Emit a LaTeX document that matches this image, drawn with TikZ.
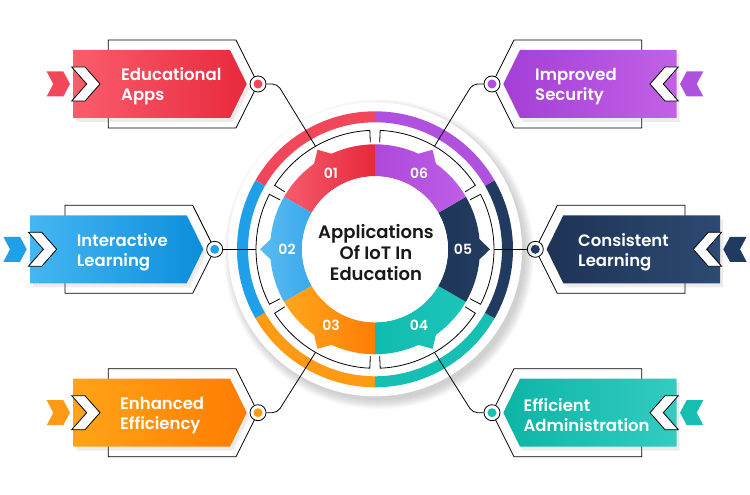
\documentclass[tikz,border=0pt]{standalone}
\usepackage{fontspec}
\setmainfont{Poppins}[BoldFont={Poppins SemiBold}]
\usepackage{tikz}
\usetikzlibrary{calc}
\usetikzlibrary{shadows}

\definecolor{redlt}{HTML}{FA5D6D}
\definecolor{reddk}{HTML}{E8293D}
\definecolor{redmid}{HTML}{F2475A}
\definecolor{bluelt}{HTML}{45B6F2}
\definecolor{bluedk}{HTML}{0C8EDB}
\definecolor{bluemid}{HTML}{1FA0E8}
\definecolor{orglt}{HTML}{FFA417}
\definecolor{orgdk}{HTML}{FF7C02}
\definecolor{orgmid}{HTML}{FF9A14}
\definecolor{teallt}{HTML}{33CCC0}
\definecolor{tealdk}{HTML}{0CB5A6}
\definecolor{tealmid}{HTML}{17BFB2}
\definecolor{navylt}{HTML}{2D4A72}
\definecolor{navydk}{HTML}{1E3356}
\definecolor{navymid}{HTML}{213B60}
\definecolor{purlt}{HTML}{C261E6}
\definecolor{purdk}{HTML}{A33FD6}
\definecolor{purmid}{HTML}{B050DE}

\definecolor{segAa}{HTML}{F65C6E}
\definecolor{segAb}{HTML}{E7283B}
\definecolor{segBa}{HTML}{5BBBF2}
\definecolor{segBb}{HTML}{3AA9EC}
\definecolor{segCa}{HTML}{FFA71C}
\definecolor{segCb}{HTML}{FF7D05}
\definecolor{segDa}{HTML}{10BCAE}
\definecolor{segDb}{HTML}{1DC5B9}
\definecolor{segEa}{HTML}{1F3658}
\definecolor{segEb}{HTML}{223C60}
\definecolor{segFa}{HTML}{AE48DA}
\definecolor{segFb}{HTML}{BE5FE6}

\tikzset{
  thinline/.style={draw=black, line width=0.8pt},
  marker/.style={circle, draw=black, line width=0.8pt, fill=white, minimum size=16pt, inner sep=0pt},
  boxtext/.style={text=white, font=\bfseries\fontsize{16.5}{20}\selectfont, align=left, anchor=west, inner sep=0pt},
  numtext/.style={text=white, font=\bfseries\fontsize{14}{16}\selectfont},
  banner/.style={drop shadow={opacity=0.15, shadow xshift=3pt, shadow yshift=-4pt}},
}

\begin{document}
\begin{tikzpicture}[x=1pt,y=1pt]
  \useasboundingbox (0,0) rectangle (750,495);
  \coordinate (C) at (375,245.7);

  \foreach \k/\s/\d/\yc/\ca/\cb/\cc in {
      1/1/0/411/redlt/reddk/redmid,
      2/1/-43.3/245.7/bluelt/bluedk/bluemid,
      3/1/0/82.3/orglt/orgdk/orgmid,
      4/-1/0/82.3/tealdk/teallt/tealmid,
      5/-1/-43.3/245.7/navydk/navylt/navymid,
      6/-1/0/411/purdk/purlt/purmid}{
    \begin{scope}[shift={(375,\yc)}, xscale=\s, xshift=\d]
      \draw[thinline] (-266.7,44) -- (-139,44) -- (-117,0) -- (-139,-44) -- (-266.7,-44) -- cycle;
      \shade[banner, left color=\ca, right color=\cb] (-301.7,34) -- (-145,34) -- (-128.3,0) -- (-145,-34) -- (-301.7,-34) -- cycle;
      \fill[\cc] (-328.3,12.5) -- (-311.7,12.5) -- (-305,0) -- (-311.7,-12.5) -- (-328.3,-12.5) -- (-321.7,0) -- cycle;
      \filldraw[thinline, fill=white] (-303.3,17) -- (-290,17) -- (-275,0) -- (-290,-17) -- (-303.3,-17) -- (-288.3,0) -- cycle;
      \node[marker] (m\k) at (-117,0) {};
      \fill[\cc] (m\k) circle (4.5);
    \end{scope}
  }

  \node[boxtext] (t1) at (121,408.5) {Educational\\Apps};
  \node[boxtext] (t2) at (76.7,243.2) {Interactive\\Learning};
  \node[boxtext] (t3) at (120,79.8) {Enhanced\\Efficiency};
  \node[boxtext] (t4) at (523.3,79.8) {Efficient\\Administration};
  \node[boxtext] (t5) at (578,243.2) {Consistent\\Learning};
  \node[boxtext] (t6) at (535,408.5) {Improved\\Security};

  \foreach \i in {1,...,10}
    \fill[black, opacity=0.018] ($(C)+(4,-5)$) circle (145+\i);
  \fill[white] (C) circle (147);

  \begin{scope}[shift={(C)}]
    \foreach \a/\cr in {90/redmid,150/bluemid,210/orgmid,270/tealmid,330/navymid,30/purmid}
      \draw[\cr, line width=11pt] (\a:132.5) arc[start angle=\a, end angle=\a+60, radius=132.5];

    \foreach \a in {30,90,...,330}
      \draw[thinline] (\a+2.5:107) -- (\a+2.5:119) arc[start angle=\a+2.5, end angle=\a+57.5, radius=119] -- (\a+57.5:107);

    \foreach \a/\ca/\cb/\num in {90/segAa/segAb/01,150/segBa/segBb/02,210/segCa/segCb/03,
                                 270/segDa/segDb/04,330/segEa/segEb/05,30/segFa/segFb/06}{
      \shade[left color=\ca, right color=\cb] (\a:105) arc[start angle=\a, end angle=\a+24.5, radius=105]
        -- (\a+30:115) -- (\a+35.5:105) arc[start angle=\a+35.5, end angle=\a+60, radius=105]
        -- (\a+60:73) arc[start angle=\a+60, end angle=\a, radius=73] -- cycle;
      \node[numtext] (n\num) at (\a+30:88) {\num};
    }
    \fill[white] (0,0) circle (73);

    \foreach \k/\a in {1/120,2/180,3/240,4/300,5/0,6/60}
      \coordinate (r\k) at (\a:119);
  \end{scope}

  \node[font=\bfseries\fontsize{18}{21}\selectfont, align=center, text=black!90] (title) at ($(C)+(1,-3)$) {Applications\\Of IoT In\\Education};

  \draw[thinline, rounded corners=5pt] (m1.east) -- ++(11,0) -- (r1);
  \draw[thinline] (m2) -- (r2);
  \draw[thinline, rounded corners=5pt] (m3.east) -- ++(11,0) -- (r3);
  \draw[thinline, rounded corners=5pt] (m4.west) -- ++(-11,0) -- (r4);
  \draw[thinline] (m5) -- (r5);
  \draw[thinline, rounded corners=5pt] (m6.west) -- ++(-11,0) -- (r6);
\end{tikzpicture}
\end{document}
